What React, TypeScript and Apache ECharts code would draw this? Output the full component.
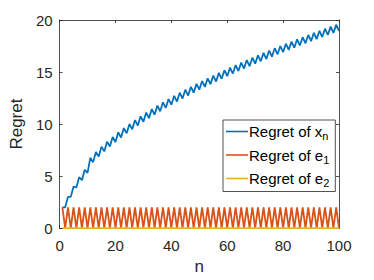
import React, { useEffect, useRef } from "react";
import * as echarts from "echarts";

const nValues: number[] = Array.from({ length: 100 }, (_, i) => i + 1);

const regretX: number[] = [
  2.0, 2.0, 3.0, 3.0, 4.0, 3.9, 4.9, 4.6, 5.6, 5.3,
  6.75, 6.34, 7.31, 6.87, 7.83, 7.37, 8.31, 7.84, 8.76, 8.28,
  9.2, 8.7, 9.61, 9.11, 10.0, 9.49, 10.38, 9.86, 10.74, 10.22,
  11.1, 10.57, 11.44, 10.9, 11.77, 11.23, 12.09, 11.55, 12.4, 11.86,
  12.71, 12.16, 13.01, 12.45, 13.3, 12.74, 13.58, 13.02, 13.86, 13.3,
  14.13, 13.57, 14.4, 13.83, 14.66, 14.09, 14.92, 14.35, 15.17, 14.6,
  15.42, 14.85, 15.67, 15.09, 15.91, 15.33, 16.15, 15.56, 16.38, 15.8,
  16.61, 16.03, 16.84, 16.25, 17.06, 16.48, 17.29, 16.7, 17.5, 16.91,
  17.72, 17.13, 17.93, 17.34, 18.14, 17.55, 18.35, 17.76, 18.56, 17.96,
  18.76, 18.16, 18.96, 18.36, 19.16, 18.56, 19.36, 18.76, 19.55, 18.95,
];

const regretE1: number[] = [
  2, 0, 2, 0, 2, 0, 2, 0, 2, 0, 2, 0, 2, 0, 2, 0, 2, 0, 2, 0,
  2, 0, 2, 0, 2, 0, 2, 0, 2, 0, 2, 0, 2, 0, 2, 0, 2, 0, 2, 0,
  2, 0, 2, 0, 2, 0, 2, 0, 2, 0, 2, 0, 2, 0, 2, 0, 2, 0, 2, 0,
  2, 0, 2, 0, 2, 0, 2, 0, 2, 0, 2, 0, 2, 0, 2, 0, 2, 0, 2, 0,
  2, 0, 2, 0, 2, 0, 2, 0, 2, 0, 2, 0, 2, 0, 2, 0, 2, 0, 2, 0,
];

const regretE2: number[] = [
  0, 0, 0, 0, 0, 0, 0, 0, 0, 0, 0, 0, 0, 0, 0, 0, 0, 0, 0, 0,
  0, 0, 0, 0, 0, 0, 0, 0, 0, 0, 0, 0, 0, 0, 0, 0, 0, 0, 0, 0,
  0, 0, 0, 0, 0, 0, 0, 0, 0, 0, 0, 0, 0, 0, 0, 0, 0, 0, 0, 0,
  0, 0, 0, 0, 0, 0, 0, 0, 0, 0, 0, 0, 0, 0, 0, 0, 0, 0, 0, 0,
  0, 0, 0, 0, 0, 0, 0, 0, 0, 0, 0, 0, 0, 0, 0, 0, 0, 0, 0, 0,
];

const seriesNames = ["Regret of x_n", "Regret of e_1", "Regret of e_2"];
const seriesColors = ["#0072BD", "#D95319", "#EDB120"];
const legendLabels: Record<string, string> = {
  "Regret of x_n": "Regret of x{sub|n}",
  "Regret of e_1": "Regret of e{sub|1}",
  "Regret of e_2": "Regret of e{sub|2}",
};

const FONT = "Liberation Sans, Arial, Helvetica, sans-serif";
const TEXT = "#262626";
const AXIS = "#262626";

export default function App() {
  const ref = useRef<HTMLDivElement>(null);
  useEffect(() => {
    document.body.style.margin = "0";
    if (!ref.current) return;
    const chart = echarts.init(ref.current, undefined, { renderer: "svg" });
    const pairs = (ys: number[]) => ys.map((y, i) => [nValues[i], y]);
    const axisCommon = {
      axisLine: { show: true, onZero: false, lineStyle: { color: AXIS, width: 0.8 } },
      axisTick: { show: true, inside: true, length: 3, lineStyle: { color: AXIS, width: 0.8 } },
      splitLine: { show: false },
    };
    chart.setOption({
      animation: false,
      backgroundColor: "#ffffff",
      textStyle: { fontFamily: FONT },
      grid: { left: 49, right: 35, top: 20, bottom: 45 },
      xAxis: [
        {
          type: "value",
          min: 0,
          max: 100,
          interval: 20,
          position: "bottom",
          name: "n",
          nameLocation: "middle",
          nameGap: 27,
          nameTextStyle: { fontSize: 17, color: TEXT, fontFamily: FONT },
          axisLabel: { fontSize: 15, color: TEXT, margin: 10, fontFamily: FONT },
          ...axisCommon,
        },
        {
          type: "value",
          min: 0,
          max: 100,
          interval: 20,
          position: "top",
          axisLabel: { show: false },
          ...axisCommon,
        },
      ],
      yAxis: [
        {
          type: "value",
          min: 0,
          max: 20,
          interval: 5,
          position: "left",
          name: "Regret",
          nameLocation: "middle",
          nameGap: 29,
          nameTextStyle: { fontSize: 17, color: TEXT, fontFamily: FONT },
          axisLabel: { fontSize: 15, color: TEXT, margin: 7, fontFamily: FONT },
          ...axisCommon,
        },
        {
          type: "value",
          min: 0,
          max: 20,
          interval: 5,
          position: "right",
          axisLabel: { show: false },
          ...axisCommon,
        },
      ],
      legend: {
        orient: "vertical",
        left: 223,
        top: 120,
        icon: "rect",
        itemWidth: 22,
        itemHeight: 1.6,
        itemGap: 6,
        padding: [4, 6, 3, 3],
        backgroundColor: "#ffffff",
        borderColor: AXIS,
        borderWidth: 0.8,
        data: seriesNames,
        formatter: (name: string) => legendLabels[name],
        textStyle: {
          fontSize: 15,
          color: "#000000",
          fontFamily: FONT,
          padding: [0, 0, 0, -4],
          rich: {
            sub: { fontSize: 11, color: "#000000", fontFamily: FONT, verticalAlign: "bottom", padding: [9, 0, 0, 0] },
          },
        },
      },
      series: [regretX, regretE1, regretE2].map((ys, i) => ({
        name: seriesNames[i],
        type: "line",
        data: pairs(ys),
        symbol: "none",
        color: seriesColors[i],
        lineStyle: { width: 1.8, color: seriesColors[i] },
        clip: false,
        z: 2 + i,
      })),
    });
    return () => chart.dispose();
  }, []);
  return <div ref={ref} style={{ width: 374, height: 280 }} />;
}
